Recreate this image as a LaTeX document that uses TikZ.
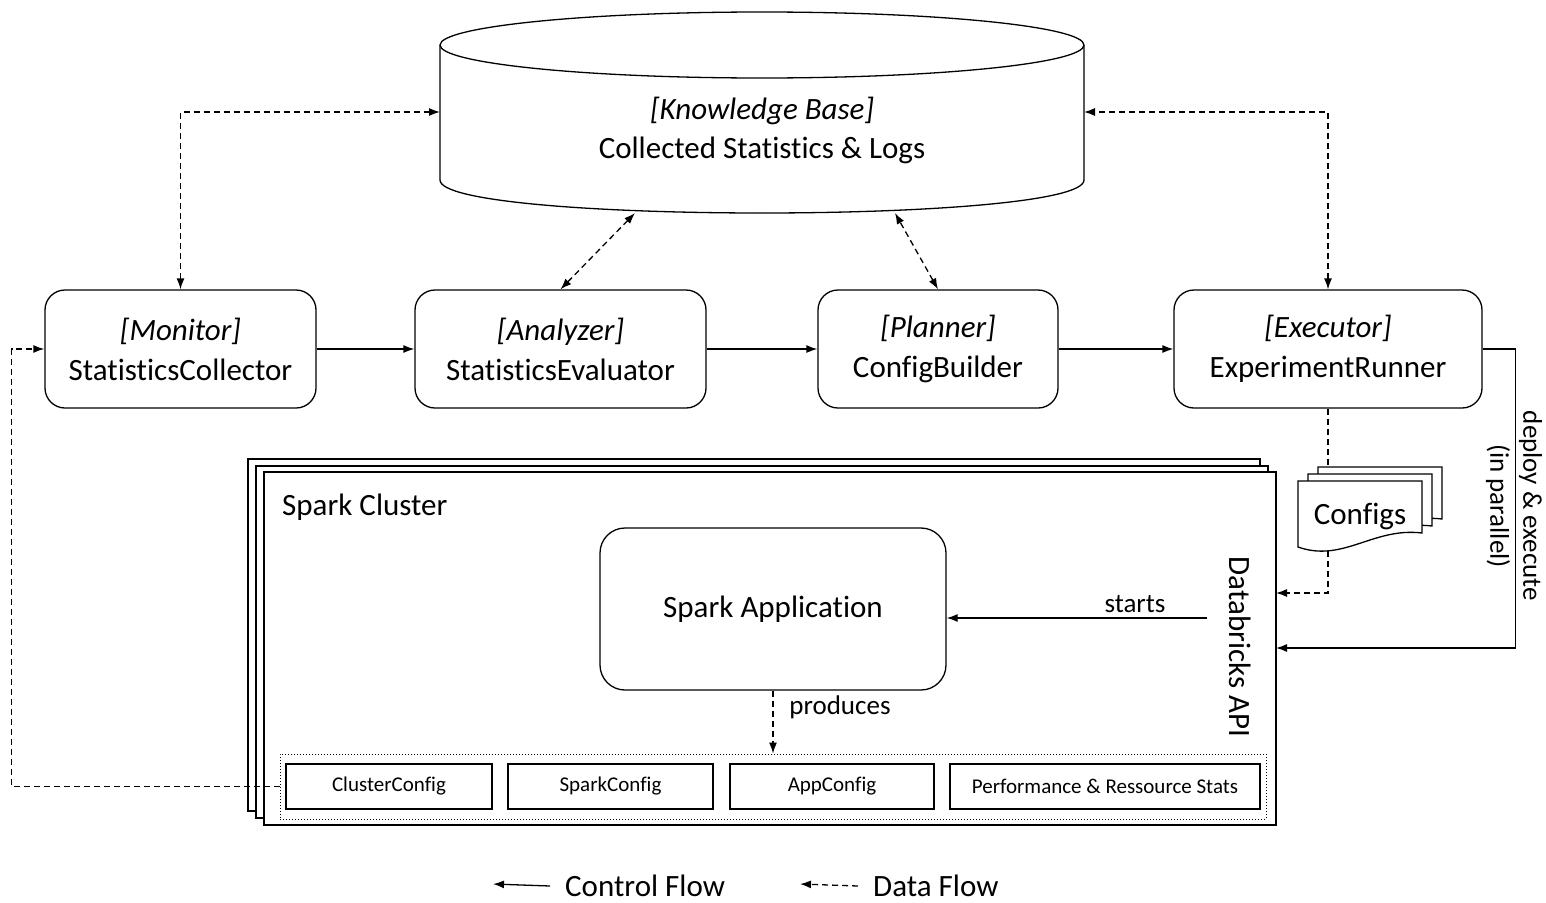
\documentclass[tikz,border=0pt]{standalone}
\usepackage{fontspec}
\setmainfont{Carlito}[Ligatures={NoCommon}]
\usetikzlibrary{arrows.meta,calc}
\tikzset{
  box/.style={draw, line width=1.3pt, rounded corners=20pt, align=center, minimum height=118pt, font=\fontsize{31}{40}\selectfont},
  smallbox/.style={draw, line width=1.3pt, minimum height=45pt, inner sep=0pt, font=\fontsize{21}{24}\selectfont},
  lbl/.style={inner sep=0pt, font=\fontsize{31}{39}\selectfont},
  edgelbl/.style={inner sep=0pt, align=center, font=\fontsize{27}{33}\selectfont},
  ctrl/.style={line width=1.3pt, -{Latex[length=11pt,width=8pt]}},
  data/.style={ctrl, dash pattern=on 6pt off 4pt},
  data2/.style={data, {Latex[length=11pt,width=8pt]}-{Latex[length=11pt,width=8pt]}},
}
\newcommand{\cfgdoc}[2]{%
  \begin{scope}[shift={(#1,#2)}]
    \draw[line width=1.3pt, fill=white] (0,66) -- (0,0) -- (124,0) -- (124,52)
      .. controls (75,46) and (45,82) .. (0,66) -- cycle;
  \end{scope}}

\begin{document}
\begin{tikzpicture}[x=1pt, y=-1pt]
		%%%%% START %%%%%
		\useasboundingbox (0,0) rectangle (1546,902);
		
		% knowledge base
		\draw[line width=1.3pt, fill=white] (440,45) -- (440,180) .. controls (440,224) and (1084,224) .. (1084,180) -- (1084,45);
		\draw[line width=1.3pt] (762,45) ellipse [x radius=322, y radius=33];
		\node[lbl, align=center] (kb) at (762,130) {\textit{[Knowledge Base]}\\Collected Statistics \& Logs};
		\coordinate (kbl) at (440,112);
		\coordinate (kbr) at (1084,112);
		\coordinate (kbb1) at (635,213);
		\coordinate (kbb2) at (895,213);
		
		% MAPE components
		\node[box, minimum width=271pt] (mon) at (180.5,349) {\textit{[Monitor]}\\StatisticsCollector};
		\node[box, minimum width=291pt] (an) at (560.5,349) {\textit{[Analyzer]}\\StatisticsEvaluator};
		\node[box, minimum width=240pt] (pl) at (938,349) {\textit{[Planner]}\\ConfigBuilder};
		\node[box, minimum width=308pt] (ex) at (1328,349) {\textit{[Executor]}\\ExperimentRunner};
		
		\draw[ctrl] (mon) -- (an);
		\draw[ctrl] (an) -- (pl);
		\draw[ctrl] (pl) -- (ex);
		
		\draw[data2] (mon.north) |- (kbl);
		\draw[data2] (an.north) -- (kbb1);
		\draw[data2] (pl.north) -- (kbb2);
		\draw[data2] (ex.north) |- (kbr);
		
		% spark cluster stack
		\draw[line width=1.3pt, fill=white] (248,459) rectangle (1260,811);
		\draw[line width=1.3pt, fill=white] (256,466) rectangle (1268,818);
		\node[draw, line width=1.3pt, fill=white, minimum width=1012pt, minimum height=353pt] (cluster) at (770,648.5) {};
		\node[lbl, anchor=west] (sc) at (282,507) {Spark Cluster};
		\node[lbl, rotate=-90] (api) at (1240,647) {Databricks API};
		
		\node[box, rounded corners=25pt, minimum width=346pt, minimum height=162pt] (app) at (773,609) {Spark Application};
		
		\coordinate (st) at (1207,618);
		\draw[ctrl] (st) -- (st -| app.east);
		\node[edgelbl] (stl) at (1135,604) {starts};
		
		\node[draw, dotted, line width=1pt, minimum width=986pt, minimum height=65pt] (stats) at (773,786.5) {};
		\node[smallbox, minimum width=206pt] (cc) at (389,786.5) {ClusterConfig};
		\node[smallbox, minimum width=205pt] (spc) at (610.5,786.5) {SparkConfig};
		\node[smallbox, minimum width=204pt] (ac) at (832,786.5) {AppConfig};
		\node[smallbox, minimum width=310pt] (ps) at (1105,786.5) {Performance \& Ressource Stats};
		
		\draw[data] (app.south) -- (app.south |- stats.north);
		\node[edgelbl] (prl) at (840,707) {produces};
		
		\draw[data] (stats.west) -- ++(-268,0) |- (mon.west);
		
		% configs
		\cfgdoc{1318}{467}
		\cfgdoc{1308}{474}
		\cfgdoc{1298}{481}
		\node[lbl] (cfg) at (1360,516) {Configs};
		\coordinate (ct) at (1328,467);
		\coordinate (cb) at (1328,551);
		\coordinate (cin) at (1276,593);
		\draw[data, -] (ex.south) -- (ct);
		\draw[data] (cb) |- (cin);
		
		\coordinate (din) at (1276,648);
		\draw[ctrl] (ex.east) -- ++(33,0) |- (din);
		\node[edgelbl, rotate=-90] (dl) at (1514,506) {deploy \& execute\\(in parallel)};
		
		% legend
		\node[lbl, anchor=west] (lc) at (565,886) {Control Flow};
		\node[lbl, anchor=west] (ld) at (873,886) {Data Flow};
		\coordinate (lca) at (493,884);
		\coordinate (lda) at (800,884);
		\draw[ctrl] ([xshift=-15pt]lc.west) -- (lca);
		\draw[data] ([xshift=-15pt]ld.west) -- (lda);
		%%%%% END %%%%%
	\end{tikzpicture}
\end{document}
